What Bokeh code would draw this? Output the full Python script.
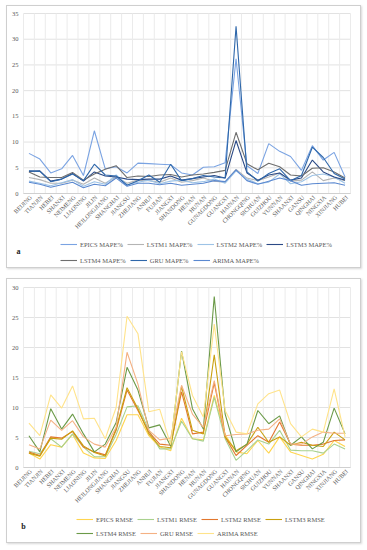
import math
from bokeh.plotting import figure
from bokeh.models import Legend, LegendItem, Label, Range1d
from bokeh.layouts import column
from bokeh.embed import file_html
from bokeh.resources import INLINE

provinces = ["BEIJING", "TIANJIN", "HEBEI", "SHANXI", "NEIMENG", "LIAONING", "JILIN",
             "HEILONGJIANG", "SHANGHAI", "JIANGSU", "ZHEJIANG", "ANHUI", "FUJIAN", "JIANGXI",
             "SHANDONG", "HENAN", "HUNAN", "GUNAGDONG", "GUANGXI", "HAINAN", "CHONGQING",
             "SICHUAN", "GUIZHOU", "YUNNAN", "SHAANXI", "GANSU", "QINGHAI", "NINGXIA",
             "XINJIANG", "HUBEI"]

# Panel a: MAPE%
epics_mape = [7.8, 6.7, 4.0, 4.8, 7.4, 3.5, 12.2, 4.8, 5.2, 4.0, 5.9, 5.8, 5.7, 5.6, 4.0,
              3.6, 5.1, 5.2, 6.0, 26.2, 5.4, 3.9, 9.7, 8.2, 7.2, 4.5, 9.3, 6.5, 8.0, 3.2]
lstm1_mape = [3.1, 2.7, 2.0, 2.0, 2.6, 1.8, 3.0, 2.0, 3.2, 2.0, 2.6, 2.5, 2.2, 3.0, 2.2,
              2.5, 3.0, 2.4, 2.2, 4.7, 3.0, 2.5, 3.2, 4.0, 2.4, 2.6, 4.2, 2.5, 3.0, 2.5]
lstm2_mape = [2.4, 2.0, 1.5, 2.1, 2.7, 1.4, 2.3, 1.8, 3.6, 1.7, 2.2, 2.6, 1.9, 2.4, 2.6,
              2.1, 2.3, 2.8, 2.0, 4.4, 2.8, 1.9, 2.2, 3.8, 1.9, 2.3, 3.5, 3.8, 3.2, 2.0]
lstm3_mape = [4.3, 4.4, 2.4, 2.8, 3.9, 2.4, 4.2, 3.4, 3.2, 2.8, 2.7, 2.8, 2.8, 3.4, 2.6,
              2.9, 3.2, 3.5, 3.0, 10.3, 4.0, 2.6, 3.6, 4.0, 2.6, 3.0, 6.5, 4.2, 3.2, 2.6]
lstm4_mape = [4.2, 3.2, 3.1, 3.1, 4.1, 2.6, 3.8, 4.7, 5.4, 3.1, 3.4, 3.3, 3.6, 3.7, 3.2,
              3.6, 3.8, 4.1, 4.5, 11.9, 5.8, 4.6, 5.9, 5.2, 3.6, 3.4, 4.9, 5.0, 4.2, 3.0]
gru_mape = [4.4, 4.3, 2.3, 2.8, 3.8, 2.5, 5.7, 3.6, 3.4, 1.6, 2.5, 3.6, 2.2, 5.7, 2.5,
            2.9, 3.5, 3.2, 3.0, 32.5, 4.2, 2.4, 3.9, 4.8, 2.5, 3.5, 9.0, 7.0, 3.9, 2.8]
arima_mape = [2.2, 1.8, 1.2, 1.7, 2.2, 1.1, 1.8, 1.5, 3.0, 1.4, 2.0, 2.0, 1.7, 2.0, 1.6,
              1.8, 2.0, 2.5, 2.3, 4.6, 2.5, 1.8, 2.4, 3.0, 2.5, 1.6, 1.9, 2.0, 2.1, 1.6]

# Panel b: RMSE
epics_rmse = [2.4, 1.4, 3.8, 3.4, 5.5, 2.4, 1.6, 1.5, 4.5, 8.8, 8.8, 5.3, 3.4, 2.8, 8.2,
              4.8, 4.6, 12.0, 5.5, 2.6, 2.3, 4.5, 2.4, 5.1, 2.6, 2.0, 1.4, 2.2, 4.5, 3.5]
lstm1_rmse = [2.7, 2.3, 4.8, 3.4, 5.6, 3.4, 1.8, 1.8, 5.5, 10.1, 10.3, 6.2, 3.1, 3.1, 7.7,
              4.8, 4.4, 11.7, 4.8, 1.2, 2.8, 4.6, 3.9, 6.2, 2.9, 2.8, 2.8, 2.4, 3.9, 3.1]
lstm2_rmse = [2.6, 2.0, 5.1, 4.9, 6.0, 3.4, 2.6, 2.1, 6.2, 12.9, 9.5, 5.9, 3.9, 3.7, 12.6,
              5.6, 5.9, 14.1, 5.1, 2.0, 3.7, 5.3, 4.2, 7.6, 3.9, 3.7, 3.7, 3.9, 4.5, 4.6]
lstm3_rmse = [2.4, 1.9, 4.9, 4.7, 6.1, 3.6, 2.5, 1.9, 6.5, 13.3, 9.8, 5.6, 3.5, 3.3, 13.5,
              6.2, 5.6, 18.8, 5.1, 2.8, 3.9, 6.7, 4.2, 5.1, 3.7, 4.2, 3.7, 3.5, 5.9, 4.6]
lstm4_rmse = [5.3, 2.6, 9.8, 6.4, 8.9, 5.6, 2.6, 3.9, 7.5, 16.7, 12.9, 6.6, 7.1, 3.6, 19.4,
              9.8, 6.4, 28.5, 8.9, 2.6, 3.9, 9.5, 7.3, 8.6, 3.7, 5.1, 3.1, 4.2, 9.9, 5.6]
gru_rmse = [3.8, 3.1, 7.9, 6.2, 7.8, 5.1, 3.9, 3.4, 6.7, 19.2, 13.9, 6.2, 4.6, 4.9, 13.7,
            8.9, 6.7, 14.5, 5.3, 5.5, 5.6, 6.2, 6.4, 8.1, 3.9, 3.9, 5.1, 5.9, 5.7, 5.7]
arima_rmse = [7.4, 5.3, 12.1, 9.9, 13.6, 8.1, 8.2, 4.8, 10.0, 25.2, 22.3, 9.3, 9.7, 3.8, 19.3,
              12.0, 8.4, 23.9, 9.5, 5.9, 5.6, 10.6, 12.3, 12.9, 7.3, 5.1, 6.4, 5.9, 13.1, 5.1]

mape_series = [("EPICS MAPE%", epics_mape, "#7aa3e2"),
               ("LSTM1 MAPE%", lstm1_mape, "#b4b4b4"),
               ("LSTM2 MAPE%", lstm2_mape, "#9dc3e6"),
               ("LSTM3 MAPE%", lstm3_mape, "#2b4a86"),
               ("LSTM4 MAPE%", lstm4_mape, "#6e6e6e"),
               ("GRU MAPE%", gru_mape, "#2e67aa"),
               ("ARIMA MAPE%", arima_mape, "#5a88d0")]

rmse_series = [("EPICS RMSE", epics_rmse, "#ffd54f"),
               ("LSTM1 RMSE", lstm1_rmse, "#a9d18e"),
               ("LSTM2 RMSE", lstm2_rmse, "#e2772e"),
               ("LSTM3 RMSE", lstm3_rmse, "#c9a00f"),
               ("LSTM4 RMSE", lstm4_rmse, "#6b9a48"),
               ("GRU RMSE", gru_rmse, "#f4b183"),
               ("ARIMA RMSE", arima_rmse, "#ffe38a")]

FONT = "Liberation Serif"
TXT = "#595959"
W = 353          # canvas width
PLOT_L = 16      # left edge of plotting area in canvas px
PLOT_R = 343     # right edge
PLOT_H = 180     # plotting area height in px


def make_legend(items, vx, vy):
    return Legend(items=items, orientation="horizontal", location=(vx, vy),
                  margin=0, padding=2, spacing=4,
                  label_text_font=FONT, label_text_font_size="6.5px",
                  label_text_color=TXT, glyph_width=17, glyph_height=10,
                  label_height=10, label_standoff=3,
                  border_line_color=None, background_fill_alpha=0)


def make_panel(series, ymax, tag, height, top, leg_x, leg_y1, leg_y2, tag_x, tag_y):
    n = len(provinces)
    xs = [i + 0.5 for i in range(n)]
    xppu = (PLOT_R - PLOT_L) / n
    yppu = PLOT_H / ymax
    x_range = Range1d(-PLOT_L / xppu, n + (W - PLOT_R) / xppu)
    y_range = Range1d(-(height - top - PLOT_H) / yppu, ymax + top / yppu)
    p = figure(width=W, height=height, output_backend="svg", toolbar_location=None,
               x_range=x_range, y_range=y_range,
               min_border_left=0, min_border_right=0, min_border_top=0, min_border_bottom=0)
    p.axis.visible = False
    p.grid.visible = False
    p.outline_line_color = None
    p.background_fill_color = "white"
    p.border_fill_color = "white"

    yticks = list(range(0, ymax + 1, 5))
    # gridlines
    p.segment(x0=[0] * len(yticks), x1=[n] * len(yticks), y0=yticks, y1=yticks,
              line_color="#e2e2e2", line_width=1)
    vx = list(range(n + 1))
    p.segment(x0=vx, x1=vx, y0=[0] * len(vx), y1=[ymax] * len(vx),
              line_color="#ebebeb", line_width=1)
    p.segment(x0=[0], x1=[n], y0=[0], y1=[0], line_color="#d0d0d0", line_width=1)

    # tick labels
    p.text(x=[0] * len(yticks), y=yticks, text=[str(t) for t in yticks],
           x_offset=-5, text_align="right", text_baseline="middle",
           text_font=FONT, text_font_size="6.5px", text_color=TXT)
    p.text(x=xs, y=[0] * n, text=provinces, angle=math.pi / 4,
           x_offset=2, y_offset=3, text_align="right", text_baseline="middle",
           text_font=FONT, text_font_size="6px", text_color=TXT)

    items = []
    for name, vals, color in series:
        r = p.line(xs, vals, line_color=color, line_width=1.1)
        items.append(LegendItem(label=name, renderers=[r]))

    p.add_layout(make_legend(items[:4], leg_x, leg_y1))
    p.add_layout(make_legend(items[4:], leg_x, leg_y2))

    p.add_layout(Label(x=tag_x, y=tag_y, x_units="screen", y_units="screen", text=tag,
                       text_font=FONT, text_font_style="bold", text_font_size="8px",
                       text_color="#222222", text_align="center", text_baseline="middle"))
    return p


pa = make_panel(mape_series, 35, "a", 261, 7, 53, 18, 2, 11, 16)
pb = make_panel(rmse_series, 30, "b", 263, 8, 69, 18, 4, 16, 16)

box_style = {"border": "1px solid #cfcfcf", "box-shadow": "1px 1px 2px #d8d8d8"}
layout = column(column(pa, styles=box_style), column(pb, styles=box_style), spacing=10,
                styles={"margin-left": "6px", "margin-top": "5px"})
open("out.html", "w").write(file_html(layout, INLINE))
